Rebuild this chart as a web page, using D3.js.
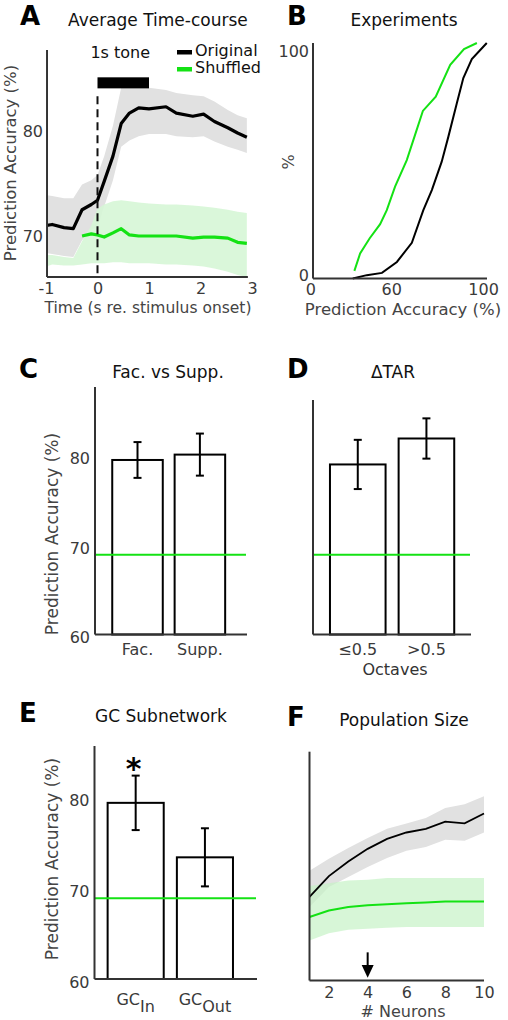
<!DOCTYPE html>
<html><head><meta charset="utf-8">
<script src="https://cdn.jsdelivr.net/npm/d3@7"></script>
<style>body{margin:0;background:#fff}svg{display:block}</style>
</head><body><svg id="c" width="508" height="1020"></svg>
<script>
// ---------- DATA ----------
// Panel A: average time-course
const timesA = [-1, -0.88, -0.65, -0.47, -0.3, -0.12, 0, 0.13, 0.3, 0.46, 0.62, 0.8, 1.0, 1.33, 1.53, 1.85, 2.06, 2.27, 2.53, 2.72, 2.9];
const origA   = [71.0, 71.1, 70.8, 70.7, 72.5, 73.0, 73.4, 75.2, 77.6, 80.7, 81.7, 82.2, 82.1, 82.3, 81.7, 81.4, 81.6, 80.9, 80.3, 79.8, 79.4];
const origAHi = [73.9, 73.8, 73.6, 73.6, 74.9, 75.3, 75.8, 77.6, 80.5, 84.1, 84.5, 84.3, 84.1, 83.9, 83.6, 83.4, 83.3, 82.8, 82.0, 81.5, 81.2];
const origALo = [68.4, 68.3, 68.1, 68.0, 69.6, 70.6, 70.8, 72.8, 75.3, 78.5, 79.1, 79.5, 79.7, 79.7, 79.5, 79.4, 79.5, 79.0, 78.5, 78.2, 77.9];
const shufAHi = [68.2, 68.2, 68.0, 67.9, 69.5, 71.0, 72.6, 73.0, 73.3, 73.4, 73.3, 73.2, 73.1, 73.0, 73.0, 72.9, 72.8, 72.7, 72.5, 72.3, 72.2];
const shufALo = [67.1, 67.3, 67.2, 67.2, 67.3, 67.4, 67.4, 67.4, 67.5, 67.5, 67.4, 67.4, 67.4, 67.3, 67.3, 67.2, 67.1, 66.9, 66.6, 66.3, 66.1];
const shufTimesA = [-0.3, -0.12, 0, 0.13, 0.3, 0.46, 0.62, 0.8, 1.0, 1.33, 1.53, 1.85, 2.06, 2.27, 2.53, 2.72, 2.9];
const shufA      = [70.0, 70.2, 70.1, 69.9, 70.3, 70.7, 70.1, 70.0, 70.0, 70.0, 70.0, 69.8, 69.9, 69.9, 69.8, 69.4, 69.3];
const toneA = [0, 1];
const xTicksA = [-1, 0, 1, 2, 3];
const yTicksA = [70, 80];
const legendA = ["Original", "Shuffled"];

// Panel B: cumulative distribution over experiments
const accBShuf = [44.0, 46.5, 50.6, 55.2, 58.1, 61.7, 66.8, 70.4, 73.8, 79.4, 85.7, 91.7, 97.3];
const pctBShuf = [3.4, 11.2, 17.9, 24.3, 30.6, 41.1, 53.0, 64.3, 75.0, 81.4, 95.6, 102.7, 105.4];
const accBOrig = [43.3, 49.4, 56.0, 62.5, 69.0, 74.0, 77.7, 82.0, 84.9, 88.6, 91.4, 95.1, 101.6];
const pctBOrig = [0, 1.5, 2.5, 7.4, 16.0, 30.6, 39.6, 52.3, 63.5, 78.5, 89.7, 98.2, 105.4];
const xTickValsB = [24.8, 60, 100];
const xTickLabelsB = ["0", "60", "100"];
const yTicksB = [0, 100];

// Panels C, D, E: bar charts
const catsC = ["Fac.", "Supp."];
const meanC = [79.5, 80.1];
const semC  = [2.0, 2.35];
const catsD = ["≤0.5", ">0.5"];
const meanD = [79.0, 81.9];
const semD  = [2.75, 2.25];
const catsE = ["In", "Out"];
const meanE = [79.4, 73.4];
const semE  = [3.0, 3.2];
const chanceLevel = 68.9;
const yTicksBars = [60, 70, 80];

// Panel F: population size
const nF = [1, 2, 3, 4, 5, 6, 7, 8, 9, 10];
const origF   = [69.2, 71.5, 73.1, 74.5, 75.6, 76.3, 76.7, 77.5, 77.3, 78.4];
const origFHi = [72.1, 73.4, 74.6, 75.7, 76.7, 77.3, 77.9, 79.0, 79.4, 80.3];
const origFLo = [68.1, 70.3, 71.4, 72.5, 73.5, 74.3, 74.7, 75.5, 75.4, 76.3];
const shufF   = [67.0, 67.7, 68.1, 68.3, 68.4, 68.5, 68.6, 68.7, 68.7, 68.7];
const shufFHi = [70.4, 70.7, 71.0, 71.1, 71.3, 71.3, 71.3, 71.3, 71.3, 71.3];
const shufFLo = [64.4, 65.2, 65.6, 65.7, 65.8, 65.9, 65.9, 65.9, 65.9, 65.9];
const xTicksF = [2, 4, 6, 8, 10];
const arrowF = 4;

// ---------- STYLE ----------
const GREEN = "#14e214", LGREEN = "#d6f6d6", GRAY = "#e1e1e1", AX = "#333", TXT = "#111", TICK = "#3a3a3a";
const svg = d3.select("#c").attr("font-family", "'DejaVu Sans', sans-serif");

function label(x, y, s, size, o = {}) {
  const t = svg.append("text").attr("x", x).attr("y", y).attr("font-size", size)
    .attr("text-anchor", o.anchor || "start").attr("fill", o.fill || TXT)
    .attr("font-weight", o.weight || "normal").text(s);
  if (o.rotate) t.attr("transform", `rotate(-90,${x},${y})`);
  return t;
}
function axisLine(x1, y1, x2, y2) {
  svg.append("line").attr("x1", x1).attr("y1", y1).attr("x2", x2).attr("y2", y2)
    .attr("stroke", AX).attr("stroke-width", 2);
}
function styleAxis(g, size) {
  g.select(".domain").remove();
  g.selectAll("text").attr("font-size", size).attr("fill", TICK)
    .attr("font-family", "'DejaVu Sans', sans-serif");
}

// ---------- PANEL A ----------
{
  const x = d3.scaleLinear().domain([-1, 3]).range([46, 252]);
  const y = d3.scaleLinear().domain([66.1, 87.7]).range([277, 50]);
  svg.append("clipPath").attr("id", "clipA").append("rect")
    .attr("x", x(-0.98)).attr("y", y(87.7)).attr("width", x(2.92) - x(-0.98)).attr("height", y(66.1) - y(87.7));
  const gA = svg.append("g").attr("clip-path", "url(#clipA)");
  const band = (hi, lo) => d3.area().x((d, i) => x(timesA[i])).y0((d, i) => y(lo[i])).y1((d, i) => y(hi[i]))(timesA);
  gA.append("path").attr("d", band(origAHi, origALo)).attr("fill", GRAY);
  gA.append("path").attr("d", band(shufAHi, shufALo)).attr("fill", LGREEN).attr("opacity", 0.9);
  // stimulus onset
  svg.append("line").attr("x1", x(0)).attr("x2", x(0)).attr("y1", y(83.3)).attr("y2", y(66.1))
    .attr("stroke", "#111").attr("stroke-width", 2).attr("stroke-dasharray", "8,5");
  gA.append("path").attr("d", d3.line().x((d, i) => x(timesA[i])).y(d => y(d))(origA))
    .attr("fill", "none").attr("stroke", "#000").attr("stroke-width", 3.2).attr("stroke-linejoin", "round");
  gA.append("path").attr("d", d3.line().x((d, i) => x(shufTimesA[i])).y(d => y(d))(shufA))
    .attr("fill", "none").attr("stroke", GREEN).attr("stroke-width", 3.2).attr("stroke-linejoin", "round");
  // tone bar
  svg.append("rect").attr("x", x(toneA[0])).attr("width", x(toneA[1]) - x(toneA[0]))
    .attr("y", y(85.1)).attr("height", y(84.05) - y(85.1)).attr("fill", "#000");
  label((x(toneA[0]) + x(toneA[1])) / 2 - 3, 58, "1s tone", 16, {anchor: "middle"});
  // legend
  [["#000", legendA[0], 52], [GREEN, legendA[1], 69]].forEach(([c, t, yy]) => {
    svg.append("rect").attr("x", 177).attr("y", yy - 2).attr("width", 15).attr("height", 4.5).attr("fill", c);
    label(195, yy + 4, t, 16);
  });
  axisLine(x(-0.98), y(87.7), x(-0.98), y(66.1));
  axisLine(x(-0.98), y(66.1), x(2.92), y(66.1));
  svg.append("g").attr("transform", `translate(0,${y(66.1)})`)
    .call(d3.axisBottom(x).tickValues(xTicksA).tickSize(0).tickPadding(6).tickFormat(d => String(d)))
    .call(g => styleAxis(g, 16));
  svg.append("g").attr("transform", `translate(${x(-0.98)},0)`)
    .call(d3.axisLeft(y).tickValues(yTicksA).tickSize(0).tickPadding(4))
    .call(g => styleAxis(g, 16));
  label(20, 25, "A", 26, {weight: "bold", fill: "#000"});
  label(68, 26, "Average Time-course", 17);
  label(16, 163, "Prediction Accuracy (%)", 16.5, {anchor: "middle", rotate: true, fill: "#444"});
  label(148, 313, "Time (s re. stimulus onset)", 15.5, {anchor: "middle", fill: "#444"});
}

// ---------- PANEL B ----------
{
  const x = d3.scaleLinear().domain([26, 101.7]).range([313, 487]);
  const y = d3.scaleLinear().domain([0, 105.4]).range([278.5, 43]);
  const ln = (xs, ys) => d3.line().x((d, i) => x(xs[i])).y((d, i) => y(ys[i]))(xs);
  svg.append("path").attr("d", ln(accBShuf, pctBShuf)).attr("fill", "none").attr("stroke", GREEN).attr("stroke-width", 2);
  svg.append("path").attr("d", ln(accBOrig, pctBOrig)).attr("fill", "none").attr("stroke", "#000").attr("stroke-width", 2);
  axisLine(x(26), y(105.4), x(26), y(0));
  axisLine(x(26), y(0), x(101.7), y(0));
  svg.append("g").attr("transform", `translate(0,${y(0)})`)
    .call(d3.axisBottom(x).tickValues(xTickValsB).tickSize(0).tickPadding(5).tickFormat((d, i) => xTickLabelsB[i]))
    .call(g => styleAxis(g, 16));
  svg.append("g").attr("transform", `translate(${x(26)},0)`)
    .call(d3.axisLeft(y).tickValues(yTicksB).tickSize(0).tickPadding(4))
    .call(g => { styleAxis(g, 16); g.selectAll("text").attr("dy", "0.1em"); });
  label(287, 25, "B", 26, {weight: "bold", fill: "#000"});
  label(404, 26, "Experiments", 17, {anchor: "middle"});
  label(294, 162, "%", 16, {anchor: "middle", rotate: true, fill: "#444"});
  label(403, 315, "Prediction Accuracy (%)", 16.5, {anchor: "middle", fill: "#444"});
}

// ---------- BAR PANELS ----------
function barPanel(p) {
  const x = d3.scaleBand().domain(p.cats).range(p.band).paddingInner(0.19).paddingOuter(0.1);
  const y = d3.scaleLinear().domain([60, p.top]).range([p.base, p.base - (p.top - 60) * p.ppu]);
  const g = svg.append("g");
  g.selectAll("rect.bar").data(p.means).join("rect").attr("class", "bar")
    .attr("x", (d, i) => x(p.cats[i])).attr("width", x.bandwidth())
    .attr("y", d => y(d)).attr("height", d => y(60) - y(d))
    .attr("fill", "#fff").attr("stroke", "#000").attr("stroke-width", 2);
  // error bars
  p.means.forEach((m, i) => {
    const cx = x(p.cats[i]) + x.bandwidth() / 2;
    const hi = y(m + p.sems[i]), lo = y(m - p.sems[i]);
    g.append("line").attr("x1", cx).attr("x2", cx).attr("y1", hi).attr("y2", lo).attr("stroke", "#000").attr("stroke-width", 2);
    [hi, lo].forEach(v => g.append("line").attr("x1", cx - 4).attr("x2", cx + 4).attr("y1", v).attr("y2", v).attr("stroke", "#000").attr("stroke-width", 2));
  });
  // chance line
  g.append("line").attr("x1", p.axisX[0]).attr("x2", p.axisX[1] - 1).attr("y1", y(chanceLevel)).attr("y2", y(chanceLevel))
    .attr("stroke", GREEN).attr("stroke-width", 2);
  axisLine(p.axisX[0], y(p.top), p.axisX[0], y(60));
  axisLine(p.axisX[0], y(60), p.axisX[1], y(60));
  if (p.yTicks) {
    svg.append("g").attr("transform", `translate(${p.axisX[0]},0)`)
      .call(d3.axisLeft(y).tickValues(yTicksBars).tickSize(0).tickPadding(5))
      .call(gg => { styleAxis(gg, 16); gg.selectAll("text").attr("dy", "0.5em"); });
  }
  return {x, y};
}

// C
{
  const {x, y} = barPanel({cats: catsC, means: meanC, sems: semC, band: [106, 231.4], axisX: [95, 247], base: 634.5, ppu: 8.95, top: 87.65, yTicks: true});
  svg.append("g").attr("transform", `translate(0,${y(60)})`)
    .call(d3.axisBottom(x).tickSize(0).tickPadding(9)).call(g => styleAxis(g, 16));
  label(19, 378, "C", 26, {weight: "bold", fill: "#000"});
  label(168, 378, "Fac. vs Supp.", 17, {anchor: "middle"});
  label(58, 534, "Prediction Accuracy (%)", 17, {anchor: "middle", rotate: true, fill: "#444"});
}
// D
{
  const {x, y} = barPanel({cats: catsD, means: meanD, sems: semD, band: [323.1, 461.1], axisX: [313, 471], base: 634.5, ppu: 8.95, top: 86.2, yTicks: false});
  svg.append("g").attr("transform", `translate(0,${y(60)})`)
    .call(d3.axisBottom(x).tickSize(0).tickPadding(9)).call(g => styleAxis(g, 16));
  label(287, 378, "D", 26, {weight: "bold", fill: "#000"});
  label(393, 378, "ΔTAR", 17, {anchor: "middle"});
  label(395, 675, "Octaves", 16, {anchor: "middle", fill: "#333"});
}
// E
{
  const {x, y} = barPanel({cats: catsE, means: meanE, sems: semE, band: [100.7, 239.9], axisX: [94.5, 257], base: 979, ppu: 9.08, top: 85.66, yTicks: true});
  const t = svg.selectAll("text.gc").data(catsE).join("text").attr("class", "gc")
    .attr("x", d => x(d) + x.bandwidth() / 2).attr("y", 1005).attr("text-anchor", "middle")
    .attr("font-size", 16).attr("fill", TICK);
  t.append("tspan").text("GC");
  t.append("tspan").attr("dy", 7).text(d => d);
  // significance star
  label(x(catsE[0]) + x.bandwidth() / 2 - 2, y(meanE[0] + semE[0]) + 3, "*", 30, {anchor: "middle", weight: "bold", fill: "#000"});
  label(19, 722, "E", 26, {weight: "bold", fill: "#000"});
  label(161, 722, "GC Subnetwork", 17, {anchor: "middle"});
  label(58, 859, "Prediction Accuracy (%)", 17, {anchor: "middle", rotate: true, fill: "#444"});
}

// ---------- PANEL F ----------
{
  const x = d3.scaleLinear().domain([1, 10]).range([309.5, 484]);
  const y = d3.scaleLinear().domain([60, 85.2]).range([980.5, 980.5 - 25.2 * 9.08]);
  const band = (hi, lo) => d3.area().x((d, i) => x(nF[i])).y0((d, i) => y(lo[i])).y1((d, i) => y(hi[i]))(nF);
  const ln = v => d3.line().x((d, i) => x(nF[i])).y(d => y(d))(v);
  svg.append("path").attr("d", band(origFHi, origFLo)).attr("fill", GRAY);
  svg.append("path").attr("d", band(shufFHi, shufFLo)).attr("fill", "#c6f2c6").attr("opacity", 0.7);
  svg.append("path").attr("d", ln(origF)).attr("fill", "none").attr("stroke", "#000").attr("stroke-width", 1.8);
  svg.append("path").attr("d", ln(shufF)).attr("fill", "none").attr("stroke", GREEN).attr("stroke-width", 2);
  axisLine(x(1), y(85.2), x(1), y(60));
  axisLine(x(1), y(60), x(10), y(60));
  svg.append("g").attr("transform", `translate(0,${y(60)})`)
    .call(d3.axisBottom(x).tickValues(xTicksF).tickSize(0).tickPadding(6))
    .call(g => styleAxis(g, 16));
  // arrow at 4 neurons
  const ax = x(arrowF);
  svg.append("line").attr("x1", ax).attr("x2", ax).attr("y1", y(63.1)).attr("y2", y(61.2)).attr("stroke", "#000").attr("stroke-width", 2);
  svg.append("path").attr("d", `M${ax - 6},${y(61.7)} L${ax + 6},${y(61.7)} L${ax},${y(60.3)} Z`).attr("fill", "#000");
  label(287, 726, "F", 26, {weight: "bold", fill: "#000"});
  label(404, 726, "Population Size", 17, {anchor: "middle"});
  label(403, 1017, "# Neurons", 16, {anchor: "middle", fill: "#444"});
}
</script></body></html>
